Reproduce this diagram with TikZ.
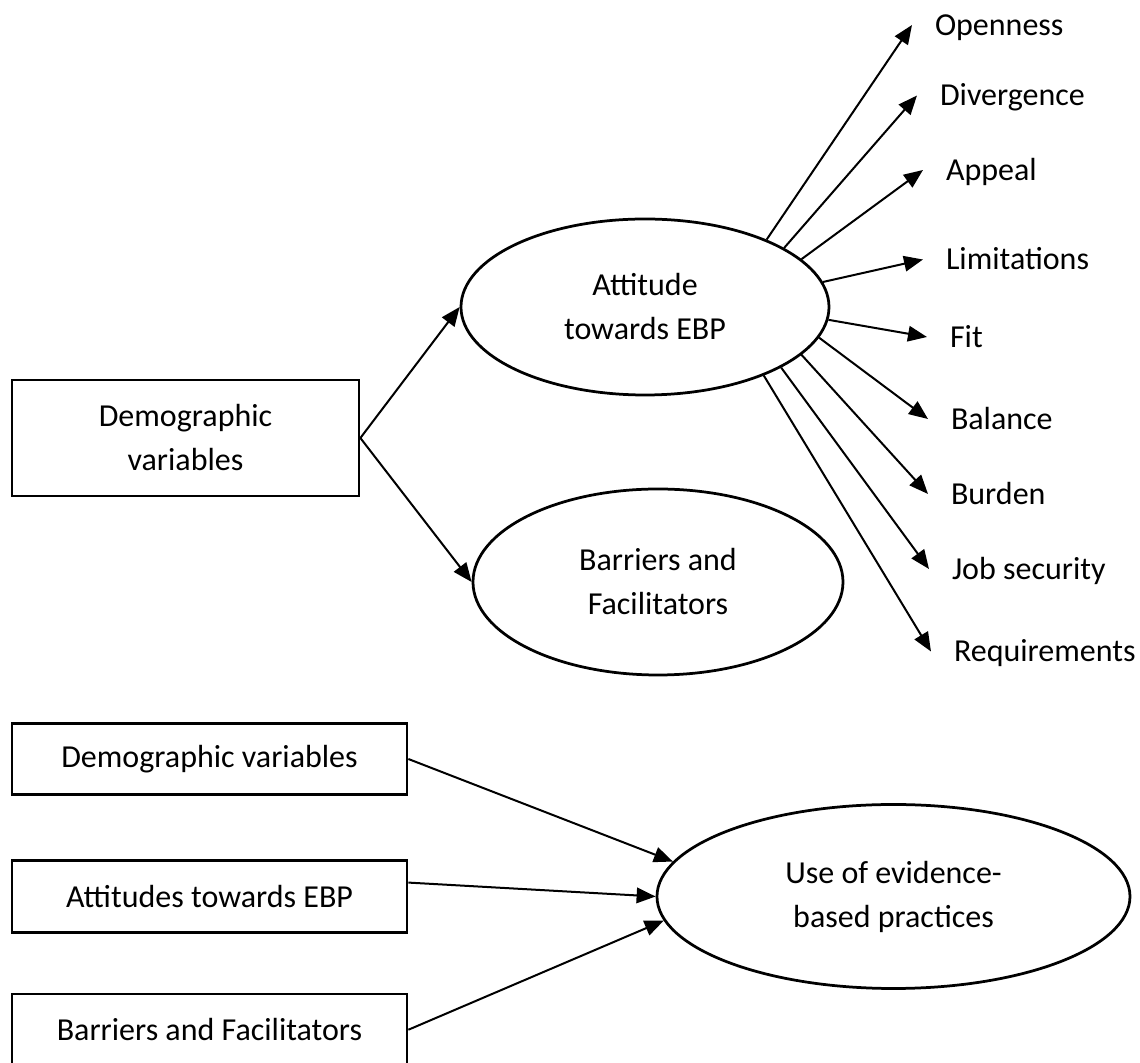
\documentclass[tikz,border=0pt]{standalone}
\usepackage{fontspec}
\setmainfont{Carlito}
\usepackage{tikz}
\usetikzlibrary{arrows.meta,shapes.geometric,positioning}

\begin{document}
\begin{tikzpicture}[
    font=\fontsize{12.8}{17.6}\selectfont,
    box/.style={rectangle, draw, line width=1.1pt, align=center},
    oval/.style={ellipse, draw, line width=1.1pt, align=center},
    lbl/.style={inner xsep=9pt, inner ysep=0pt, text height=8.2pt, text depth=0pt},
    arrow/.style={-{Triangle[length=7.6pt, width=6.2pt]}, line width=0.8pt}
]
\useasboundingbox (-74.2pt,-250pt) rectangle (381.8pt,175.2pt);

% Model 1: demographics -> attitude, barriers
\node[box, minimum width=138.8pt, minimum height=46.4pt] (demo) {Demographic\\variables};
\node[oval, right of=demo, node distance=183.8pt, yshift=52.4pt, minimum width=147.2pt, minimum height=70.4pt] (att) {Attitude\\towards EBP};
\node[oval, right of=demo, node distance=189pt, yshift=-57.6pt, minimum width=148pt, minimum height=74.4pt] (barr) {Barriers and\\Facilitators};

% Attitude subscales
\node[lbl, right of=att, node distance=106.8pt, yshift=112.8pt, anchor=west] (open) {Openness};
\node[lbl, right of=att, node distance=108.8pt, yshift=84.6pt, anchor=west] (diverg) {Divergence};
\node[lbl, right of=att, node distance=111.2pt, yshift=54.8pt, anchor=west] (appeal) {Appeal};
\node[lbl, right of=att, node distance=111.2pt, yshift=19pt, anchor=west] (limit) {Limitations};
\node[lbl, right of=att, node distance=112.8pt, yshift=-12pt, anchor=west] (fit) {Fit};
\node[lbl, right of=att, node distance=113.2pt, yshift=-44.8pt, anchor=west] (balance) {Balance};
\node[lbl, right of=att, node distance=113.2pt, yshift=-74.8pt, anchor=west] (burden) {Burden};
\node[lbl, right of=att, node distance=113.6pt, yshift=-104.8pt, anchor=west] (jobsec) {Job security};
\node[lbl, right of=att, node distance=114.4pt, yshift=-137.8pt, anchor=west] (require) {Requirements};

% Model 2: predictors of EBP use
\node[box, below of=demo, node distance=128.4pt, xshift=9.6pt, minimum width=158pt, minimum height=28.6pt] (demoB) {Demographic variables};
\node[box, below of=demoB, node distance=55pt, minimum width=158pt, minimum height=28.6pt] (attB) {Attitudes towards EBP};
\node[box, below of=attB, node distance=53.3pt, minimum width=158pt, minimum height=28.6pt] (barrB) {Barriers and Facilitators};
\node[oval, right of=attB, node distance=273.6pt, minimum width=189.2pt, minimum height=73.6pt] (use) {Use of evidence-\\based practices};

% Connections
\draw[arrow] (demo.east) -- (att.west);
\draw[arrow] (demo.east) -- (barr.west);
\draw[arrow] (att.29) -- (open.west);
\draw[arrow] (att.23.6) -- (diverg.west);
\draw[arrow] (att.17.9) -- (appeal.west);
\draw[arrow] (att.8.9) -- (limit.west);
\draw[arrow] (att.-4.9) -- (fit.west);
\draw[arrow] (att.-10.2) -- (balance.west);
\draw[arrow] (att.-17.1) -- (burden.west);
\draw[arrow] (att.-24.4) -- (jobsec.west);
\draw[arrow] (att.-30.5) -- (require.west);
\draw[arrow] (demoB.east) -- (use.171);
\draw[arrow] (attB.4) -- (use.west);
\draw[arrow] (barrB.east) -- (use.186);

\end{tikzpicture}
\end{document}
